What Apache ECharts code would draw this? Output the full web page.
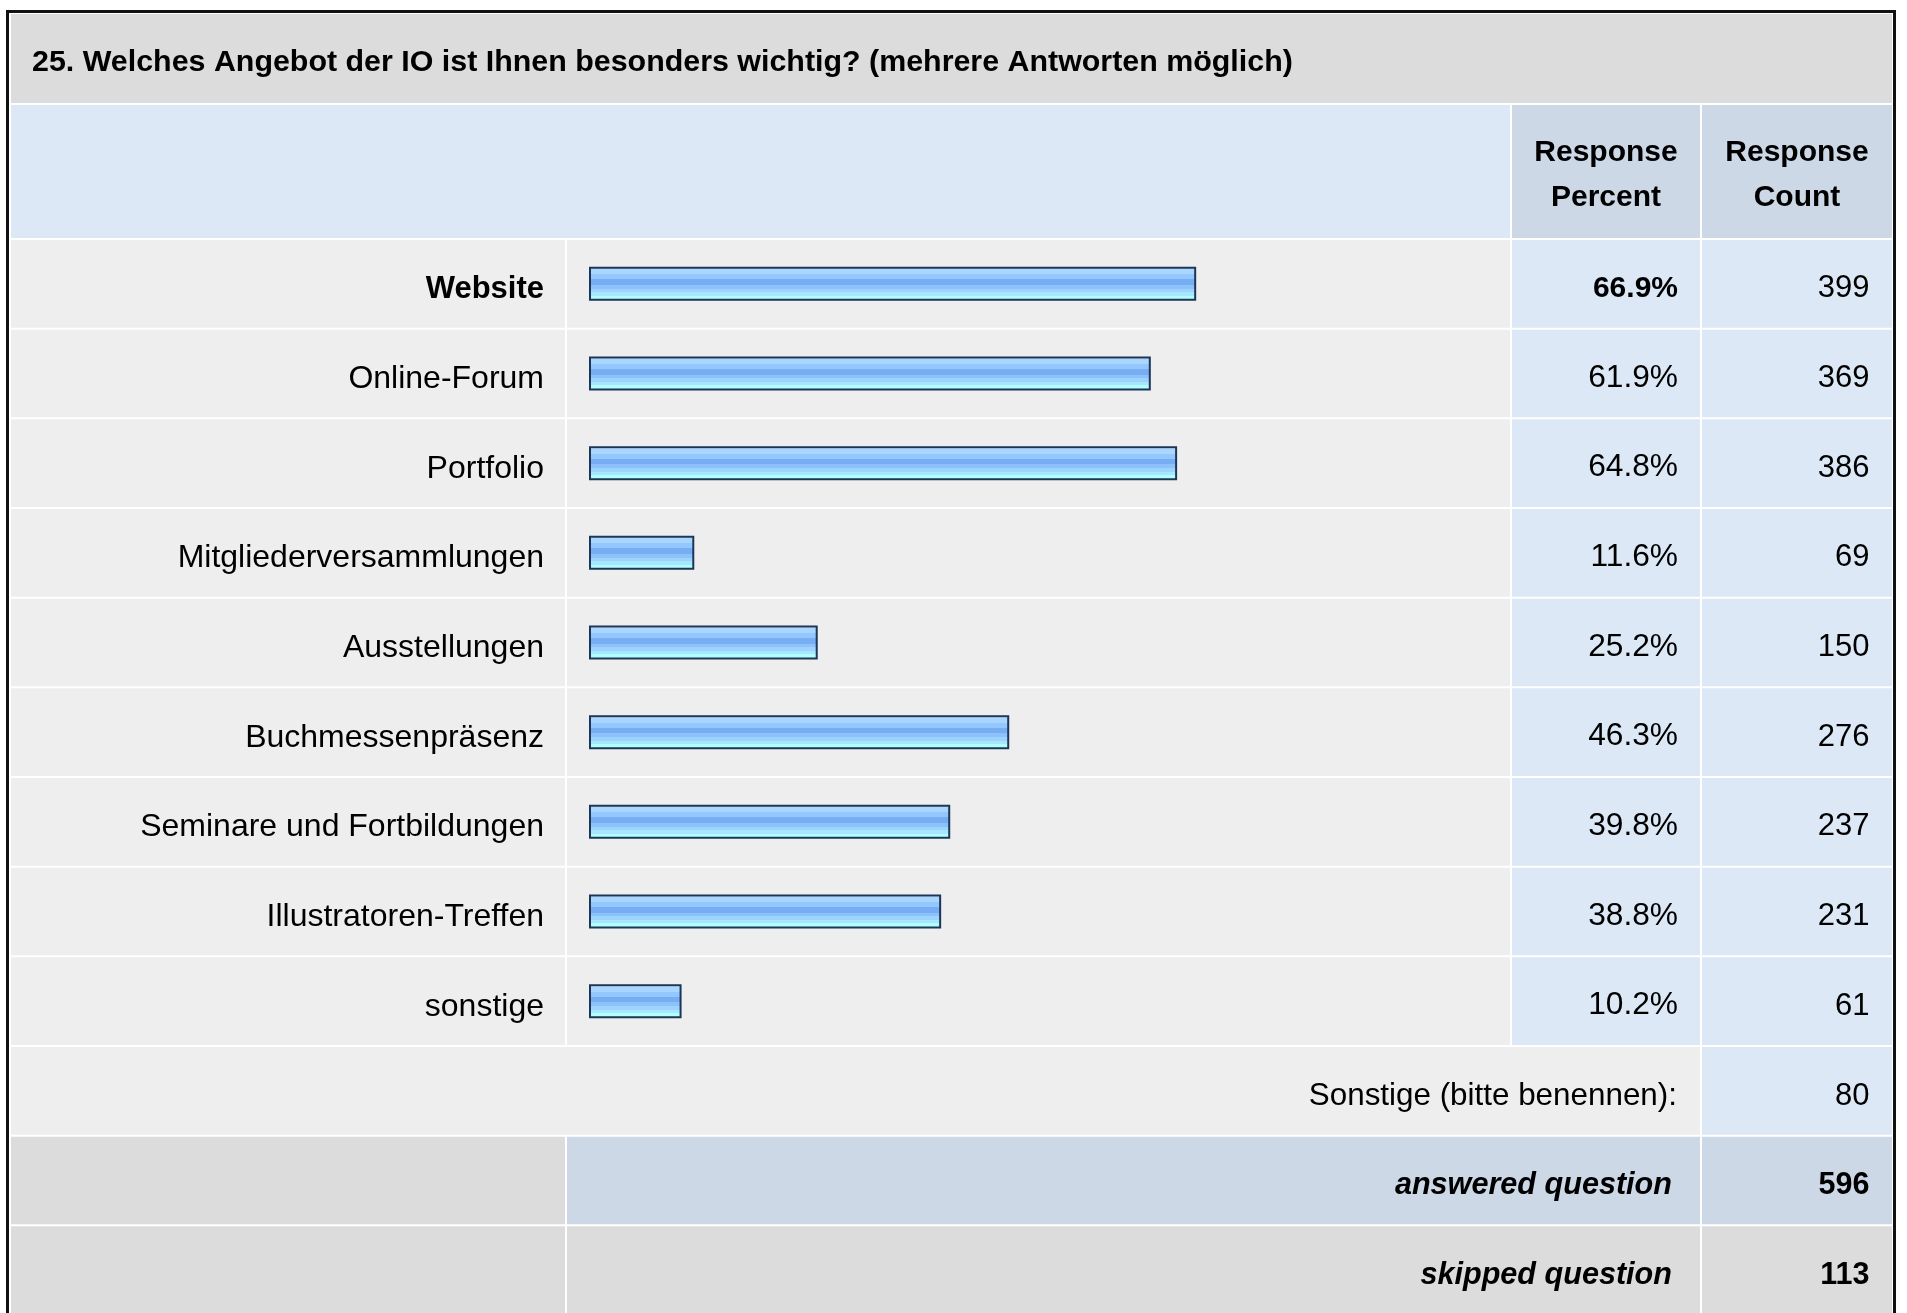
<!DOCTYPE html>
<html>
<head>
<meta charset="utf-8">
<script src="https://cdn.jsdelivr.net/npm/echarts@6/dist/echarts.min.js"></script>
<style>
  html, body { margin: 0; padding: 0; background: #ffffff; }
  #chart { width: 1907px; height: 1313px; }
</style>
</head>
<body>
<div id="chart"></div>
<script>
// Survey question and answer options
const questionTitle = '25. Welches Angebot der IO ist Ihnen besonders wichtig? (mehrere Antworten möglich)';
const categories = [
  'Website',
  'Online-Forum',
  'Portfolio',
  'Mitgliederversammlungen',
  'Ausstellungen',
  'Buchmessenpräsenz',
  'Seminare und Fortbildungen',
  'Illustratoren-Treffen',
  'sonstige'
];
const responsePercent = [66.9, 61.9, 64.8, 11.6, 25.2, 46.3, 39.8, 38.8, 10.2];
const responseCount = [399, 369, 386, 69, 150, 276, 237, 231, 61];
const columnHeaders = ['Response\nPercent', 'Response\nCount'];
const otherLabel = 'Sonstige (bitte benennen):';
const otherCount = 80;
const summaryLabels = ['answered question', 'skipped question'];
const summaryCounts = [596, 113];

// Table layout
const FONT = "'Liberation Sans', Arial, Helvetica, sans-serif";
const ROW_TOP = 240;
const ROW_PITCH = 89.67;
const TEXT_DY = 5.5;
const COUNT_RIGHT = 1869.5;
const X = {
  left: 11, labelRight: 565, barLeft: 567, barRight: 1510,
  pctLeft: 1512, pctRight: 1700, cntLeft: 1702, right: 1892
};
const C = {
  gray: '#dcdcdc', light: '#eeeeee', blue: '#dce8f5', blueDark: '#ccd8e6'
};
const maxPct = Math.max.apply(null, responsePercent);

function rect(x1, x2, y, h, fill) {
  return { type: 'rect', shape: { x: x1, y: y, width: x2 - x1, height: h }, style: { fill: fill }, silent: true };
}
function txt(s, x, y, align, size, weight, style) {
  return {
    type: 'text', x: x, y: y, silent: true,
    style: {
      text: s, fill: '#000', align: align, verticalAlign: 'middle',
      textAlign: align, textVerticalAlign: 'middle',
      font: (style || 'normal') + ' ' + (weight || 'normal') + ' ' + size + 'px ' + FONT
    }
  };
}

// Title, header and footer rows of the table
const graphics = [];
graphics.push(rect(X.left, X.right, 14, 89, C.gray));
graphics.push(txt(questionTitle, 32, 63, 'left', 30.4, 'bold'));
graphics.push(rect(X.left, X.barRight, 105, 133, C.blue));
graphics.push(rect(X.pctLeft, X.pctRight, 105, 133, C.blueDark));
graphics.push(rect(X.cntLeft, X.right, 105, 133, C.blueDark));
[[columnHeaders[0], (X.pctLeft + X.pctRight) / 2], [columnHeaders[1], (X.cntLeft + X.right) / 2]].forEach(function (h) {
  const t = txt(h[0], h[1], 175.5, 'center', 30, 'bold');
  t.style.lineHeight = 45;
  graphics.push(t);
});

const footerTop = function (k) { return ROW_TOP + (categories.length + k) * ROW_PITCH; };
const cellH = ROW_PITCH - 2;
// other answers row
graphics.push(rect(X.left, X.pctRight, footerTop(0), cellH, C.light));
graphics.push(rect(X.cntLeft, X.right, footerTop(0), cellH, C.blue));
graphics.push(txt(otherLabel, 1677, footerTop(0) + cellH / 2 + TEXT_DY, 'right', 31.4));
graphics.push(txt(String(otherCount), COUNT_RIGHT, footerTop(0) + cellH / 2 + TEXT_DY, 'right', 31));
// answered / skipped rows
summaryLabels.forEach(function (lab, k) {
  const top = footerTop(k + 1);
  const mid = k === 0 ? C.blueDark : C.gray;
  graphics.push(rect(X.left, X.labelRight, top, cellH, C.gray));
  graphics.push(rect(X.barLeft, X.pctRight, top, cellH, mid));
  graphics.push(rect(X.cntLeft, X.right, top, cellH, mid));
  graphics.push(txt(lab, 1672, top + cellH / 2 + TEXT_DY, 'right', 30.6, 'bold', 'italic'));
  graphics.push(txt(String(summaryCounts[k]), COUNT_RIGHT, top + cellH / 2 + TEXT_DY, 'right', 30.5, 'bold'));
});
// outer frame
graphics.push({
  type: 'rect', silent: true, z: 100,
  shape: { x: 7.5, y: 11.5, width: 1887, height: 1400 },
  style: { fill: 'none', stroke: '#111111', lineWidth: 3 }
});

// Cells of each answer row, positioned on the category axis
function renderRow(params, api) {
  const idx = params.dataIndex;
  const cy = api.coord([0, idx])[1];
  const h = api.size([0, 1])[1];
  const top = cy - h / 2 + 1;
  const ch = h - 2;
  const pct = api.value(0);
  const cnt = api.value(2);
  const isMax = pct === maxPct;
  return {
    type: 'group',
    children: [
      rect(X.left, X.labelRight, top, ch, C.light),
      rect(X.barLeft, X.barRight, top, ch, C.light),
      rect(X.pctLeft, X.pctRight, top, ch, C.blue),
      rect(X.cntLeft, X.right, top, ch, C.blue),
      txt(pct.toFixed(1) + '%', 1678, cy + TEXT_DY - 1, 'right', isMax ? 30 : 31.7, isMax ? 'bold' : 'normal'),
      txt(String(cnt), COUNT_RIGHT, cy + TEXT_DY - 0.5, 'right', 31)
    ]
  };
}

const chart = echarts.init(document.getElementById('chart'), null, { renderer: 'canvas' });
chart.setOption({
  backgroundColor: '#ffffff',
  animation: false,
  graphic: { elements: graphics },
  grid: { left: 589, top: ROW_TOP - 1, width: 907.6, height: categories.length * ROW_PITCH, containLabel: false },
  xAxis: { type: 'value', min: 0, max: 100, show: false },
  yAxis: {
    type: 'category',
    inverse: true,
    data: categories,
    axisLine: { show: false },
    axisTick: { show: false },
    splitLine: { show: false },
    z: 5,
    axisLabel: {
      margin: 45,
      fontSize: 32,
      fontFamily: FONT,
      color: '#000',
      padding: [11, 0, 0, 0],
      formatter: function (v, i) {
        return responsePercent[i] === maxPct ? '{b|' + v + '}' : v;
      },
      rich: { b: { fontWeight: 'bold', fontSize: 31, fontFamily: FONT, color: '#000' } }
    }
  },
  series: [
    {
      type: 'custom',
      z: 1,
      silent: true,
      clip: false,
      encode: { x: 0, y: 1 },
      data: categories.map(function (c, i) { return [responsePercent[i], i, responseCount[i]]; }),
      renderItem: renderRow
    },
    {
      type: 'bar',
      z: 3,
      barWidth: 34,
      silent: true,
      data: responsePercent,
      itemStyle: {
        borderColor: '#1d3557',
        borderWidth: 2,
        color: {
          type: 'linear', x: 0, y: 0, x2: 0, y2: 1,
          colorStops: [
            { offset: 0, color: '#cde6ff' }, { offset: 0.07, color: '#cde6ff' },
            { offset: 0.07, color: '#a9d6ff' }, { offset: 0.22, color: '#a9d6ff' },
            { offset: 0.22, color: '#93c7fd' }, { offset: 0.37, color: '#93c7fd' },
            { offset: 0.37, color: '#77adf2' }, { offset: 0.53, color: '#77adf2' },
            { offset: 0.53, color: '#8cc1f9' }, { offset: 0.64, color: '#8cc1f9' },
            { offset: 0.64, color: '#9dd4fe' }, { offset: 0.75, color: '#9dd4fe' },
            { offset: 0.75, color: '#a8e6ff' }, { offset: 0.85, color: '#a8e6ff' },
            { offset: 0.85, color: '#b0ffff' }, { offset: 1, color: '#b0ffff' }
          ]
        }
      }
    }
  ]
});
</script>
</body>
</html>
